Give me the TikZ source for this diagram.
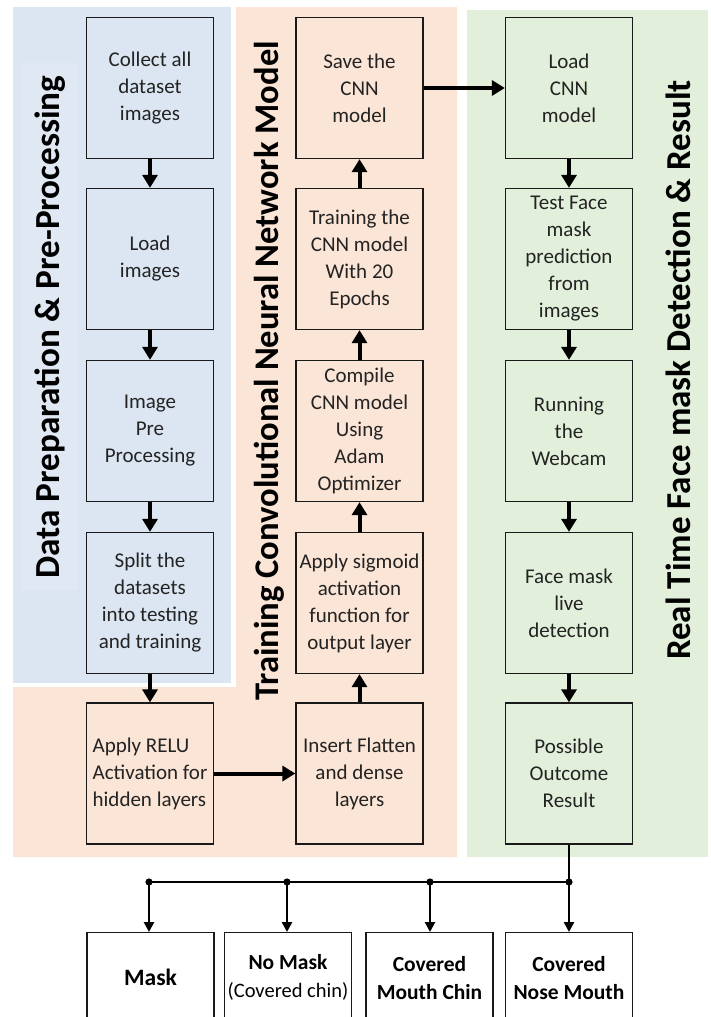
\documentclass[tikz,border=0pt]{standalone}
\usepackage{fontspec}
\setmainfont{Carlito}
\usetikzlibrary{arrows.meta}
\definecolor{pblue}{RGB}{220,230,242}
\definecolor{pblueIn}{RGB}{223,232,243}
\definecolor{porange}{RGB}{251,229,214}
\definecolor{pgreen}{RGB}{226,239,218}
\definecolor{txt}{RGB}{35,35,35}
\tikzset{
  procbox/.style={draw=black!90, line width=1.3pt, minimum width=127pt, minimum height=141pt,
    inner sep=2pt, align=center, text=txt, font=\fontsize{21}{27}\selectfont},
  outbox/.style={draw=black!90, line width=1.3pt, fill=white, minimum width=127pt, minimum height=90pt,
    anchor=north, align=center, text=black, font=\fontsize{21.5}{28}\selectfont\bfseries},
  paneltitle/.style={rotate=90, font=\fontsize{34}{36}\selectfont\bfseries, text=black},
  bigarrow/.style={line width=4pt, -{Triangle[width=15pt,length=13pt]}},
  smallarrow/.style={line width=2.5pt, -{Triangle[width=10pt,length=10pt]}},
  smallline/.style={line width=2.5pt},
}
\begin{document}
\begin{tikzpicture}[x=1pt,y=-1pt]
\useasboundingbox (0,0) rectangle (710,1017);
\clip (0,0) rectangle (710,1017);
\fill[white] (0,0) rectangle (710,1017);
% panels
\fill[pblue] (13,7) rectangle (231,683);
\fill[pblueIn] (21,63) rectangle (78,590);
\fill[porange] (236,7) -- (457,7) -- (457,857) -- (13,857) -- (13,687) -- (236,687) -- cycle;
\fill[pgreen] (467,10) rectangle (708,857);
% titles
\node[paneltitle, font=\fontsize{35.2}{38}\selectfont\bfseries] (t1) at (50,327) {Data Preparation \& Pre-Processing};
\node[paneltitle, font=\fontsize{34.6}{38}\selectfont\bfseries] (t2) at (269,371) {Training Convolutional Neural Network Model};
\node[paneltitle, font=\fontsize{35}{38}\selectfont\bfseries] (t3) at (678,370) {Real Time Face mask Detection \& Result};
% column 1
\node[procbox] (collect) at (150,88) {Collect all\\dataset\\images};
\node[procbox] (load) at (150,259) {Load\\images};
\node[procbox] (imgpre) at (150,431) {Image\\Pre\\Processing};
\node[procbox] (split) at (150,603) {Split the\\datasets\\into testing\\and training};
\node[procbox, align=left] (relu) at (150,773.5) {Apply RELU\\Activation for\\hidden layers};
% column 2
\node[procbox] (save) at (359.5,88) {Save the\\CNN\\model};
\node[procbox] (train) at (359.5,259) {Training the\\CNN model\\With 20\\Epochs};
\node[procbox] (compile) at (359.5,431) {Compile\\CNN model\\Using\\Adam\\Optimizer};
\node[procbox] (sigmoid) at (359.5,603) {Apply sigmoid\\activation\\function for\\output layer};
\node[procbox] (flatten) at (359.5,773.5) {Insert Flatten\\and dense\\layers};
% column 3
\node[procbox] (loadcnn) at (569,88) {Load\\CNN\\model};
\node[procbox] (test) at (569,259) {Test Face\\mask\\prediction\\from\\images};
\node[procbox] (webcam) at (569,431) {Running\\the\\Webcam};
\node[procbox] (live) at (569,603) {Face mask\\live\\detection};
\node[procbox] (possible) at (569,773.5) {Possible\\Outcome\\Result};
% outcome boxes
\node[outbox, font=\fontsize{23.5}{28}\selectfont\bfseries] (mask) at (150.5,932) {Mask};
\node[outbox] (nomask) at (288,932) {No Mask\\{\mdseries\fontsize{20.5}{28}\selectfont(Covered chin)}};
\node[outbox] (cmc) at (429.5,932) {Covered\\Mouth Chin};
\node[outbox] (cnm) at (569,932) {Covered\\Nose Mouth};
% arrows
\draw[bigarrow] (collect) -- (load);
\draw[bigarrow] (load) -- (imgpre);
\draw[bigarrow] (imgpre) -- (split);
\draw[bigarrow] (split) -- (relu);
\draw[bigarrow] (relu) -- (flatten);
\draw[bigarrow] (flatten) -- (sigmoid);
\draw[bigarrow] (sigmoid) -- (compile);
\draw[bigarrow] (compile) -- (train);
\draw[bigarrow] (train) -- (save);
\draw[bigarrow, line width=4.5pt] (save) -- (loadcnn);
\draw[bigarrow] (loadcnn) -- (test);
\draw[bigarrow] (test) -- (webcam);
\draw[bigarrow] (webcam) -- (live);
\draw[bigarrow] (live) -- (possible);
% outcome distribution
\coordinate (j1) at (149,882);
\coordinate (j2) at (287,882);
\coordinate (j3) at (430,882);
\coordinate (j4) at (569,882);
\draw[smallline] (possible.south) -- (j4);
\draw[smallline] (j4) -- (j1);
\draw[smallarrow] (j1) -- (j1 |- mask.north);
\draw[smallarrow] (j2) -- (j2 |- nomask.north);
\draw[smallarrow] (j3) -- (j3 |- cmc.north);
\draw[smallarrow] (j4) -- (j4 |- cnm.north);
\foreach \j in {j1,j2,j3,j4} \fill (\j) circle (3.6pt);
\end{tikzpicture}
\end{document}
